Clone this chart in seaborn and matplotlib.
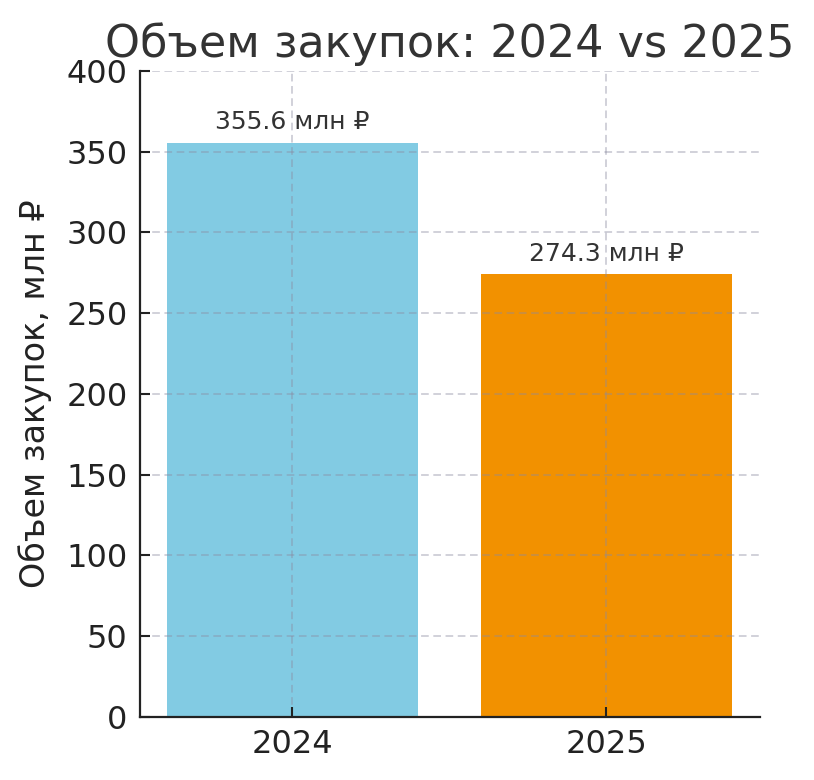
import numpy as np
import pandas as pd
import matplotlib
matplotlib.use("Agg")
import matplotlib.pyplot as plt
import seaborn as sns

years = ["2024", "2025"]
volumes = [355.6, 274.3]
bar_colors = ["#82cbe3", "#f29100"]

sns.set_style("ticks")
plt.rcParams["font.family"] = ["DejaVu Sans"]

df = pd.DataFrame({"year": years, "volume": volumes})

fig = plt.figure(figsize=(8.14, 7.8), dpi=100)
ax = fig.add_axes([0.172, 0.081, 0.762, 0.828])

sns.barplot(data=df, x="year", y="volume", hue="year", palette=bar_colors,
            legend=False, width=0.8, saturation=1, linewidth=0, ax=ax)

ax.set_xlim(-0.485, 1.49)
ax.set_ylim(0, 400)
ax.set_yticks(np.arange(0, 401, 50))
ax.set_xlabel("")
ax.set_ylabel("Объем закупок, млн ₽", fontsize=24, color="#222222", labelpad=10)
ax.set_title("Объем закупок: 2024 vs 2025", fontsize=32, color="#333333", pad=10)

ax.grid(True, linestyle=(0, (5, 3)), color="#8a8aa0", alpha=0.5, linewidth=1.1)
ax.set_axisbelow(False)

ax.tick_params(axis="both", direction="in", length=7, width=1.5,
               labelsize=23, colors="#222222", pad=9)
for side in ["top", "right"]:
    ax.spines[side].set_visible(False)
for side in ["left", "bottom"]:
    ax.spines[side].set_linewidth(1.6)
    ax.spines[side].set_color("#222222")
    ax.spines[side].set_zorder(5)

for i, v in enumerate(volumes):
    ax.annotate(f"{v:.1f} млн ₽", xy=(i, v), xytext=(0, 6),
                textcoords="offset points", ha="center", va="bottom",
                fontsize=18, color="#333333")

fig.savefig("out.png", dpi=100)
plt.close(fig)
